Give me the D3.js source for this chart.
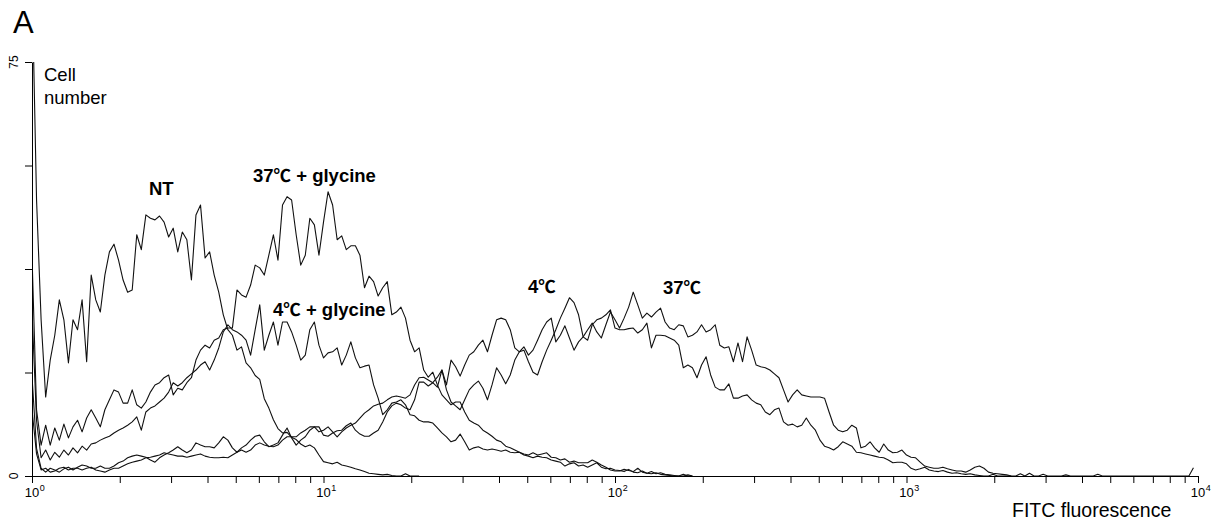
<!DOCTYPE html>
<html><head><meta charset="utf-8">
<script src="https://cdn.jsdelivr.net/npm/d3@7"></script>
<style>
html,body{margin:0;padding:0;background:#fff;}
svg{display:block;font-family:"Liberation Sans",Arial,"Noto Sans CJK SC",sans-serif;}
</style></head><body>
<svg id="chart" width="1227" height="525"></svg>
<script>
// Histogram channels: 64 channels per decade, channel i sits at 10^(i/64)
const channelsPerDecade = 64;

const ntCounts = [90, 50, 28.3, 14.3, 21, 25.5, 31.9, 28.3, 20.5, 28.3,
 26.5, 31.9, 20.7, 36.4, 31.9, 29.7, 36.4, 40.6, 42, 39.1,
 35.5, 33.3, 33.7, 43.7, 41, 47.3, 46.7, 46.4, 47.1, 46,
 43.3, 44.9, 40.6, 44.2, 42.8, 35.5, 47.3, 49.1, 39.5, 40.6,
 36.4, 33.3, 29.2, 26.5, 25.5, 22.8, 23.4, 20.5, 19.6, 18.2,
 17.5, 14, 12.3, 10.2, 8.6, 7.8, 7.9, 7.0, 6.6, 5.8,
 5.3, 5.6, 5.1, 3.8, 2.6, 2.4, 2.2, 2.5, 2.0, 1.8,
 1.6, 1.3, 1.1, 0.8, 0.5, 0.4, 0.3, 0.2, 0.3, 0.1,
 0, 0, 0.4, 0, 0, 0];

const glycine37Counts = [40, 12, 5.6, 9.2, 5.6, 8.7, 6.5, 9.4, 6.9, 8.9,
 10.1, 8, 10.5, 12, 10.5, 8.9, 12, 13.8, 15.6, 15.2,
 13.2, 13.2, 15.6, 12.9, 12.3, 13.4, 15.2, 16.5, 16.9, 17.8,
 18.3, 14.7, 15.9, 15.6, 16.9, 17.8, 21, 22.8, 23.7, 23.2,
 24.6, 25, 26.5, 26.8, 26.8, 33.7, 32.8, 32.4, 34.6, 38.2,
 37.7, 36.4, 40, 43.7, 39.1, 49.1, 50.6, 50, 43.7, 38.2,
 40, 46.7, 45.5, 40, 46, 51.5, 49.1, 42.8, 43.5, 41,
 41.7, 41.7, 40, 34.1, 36.2, 35.2, 32.6, 34.1, 35.2, 29.2,
 29.7, 30.6, 28.6, 24.6, 22.5, 23.2, 19.2, 17.9, 18.8, 16.5,
 14.7, 13.8, 12.9, 13.4, 13.4, 11.6, 10.1, 9.6, 9.2, 8.3,
 7.8, 7.2, 6.5, 6.2, 5.4, 5.1, 4.7, 4.3, 3.8, 3.6,
 3.3, 3.6, 3.4, 3.3, 2.9, 2.7, 2.5, 1.8, 2.2, 2.4,
 1.8, 2, 1.6, 2, 2.4, 1.6, 1.3, 1.4, 1.1, 1.0,
 0.8, 1.2, 0.7, 0.6, 0.9, 0.5, 0.4, 0.6, 0.3, 0.2,
 0.1, 0, 0, 0.3, 0, 0];

const glycine4Counts = [30, 10, 3.3, 4.7, 2.9, 4.3, 3.4, 4.7, 3.8, 5.1,
 4.2, 5.4, 4.7, 5.8, 6, 6.5, 6.9, 7.2, 7.8, 8.3,
 8.7, 9.2, 9.8, 10.7, 8.3, 11.6, 12.3, 12.7, 13.4, 14.1,
 15.2, 16.9, 16.3, 16.9, 17.8, 18.5, 19.2, 20.1, 20.7, 19.2,
 21, 23.2, 26.1, 27.4, 26.5, 26.1, 25.5, 24.6, 21.9, 26.5,
 31, 22.8, 25.5, 27.9, 23.7, 27.9, 27.9, 26.1, 23.7, 21,
 21.9, 26.5, 27.9, 23.7, 21.4, 22.3, 22.5, 23.2, 20.1, 21.9,
 24.3, 21.4, 19.6, 19.9, 20.1, 16.5, 14.1, 11.1, 12, 13.2,
 13.4, 13.8, 12.9, 11.1, 10.9, 10.1, 9.8, 9.8, 9.6, 8.7,
 7.8, 7.1, 6.2, 6.5, 7.6, 6.2, 4.7, 5.1, 5.3, 4.9,
 4.7, 4.9, 4.7, 4.5, 4.7, 4.3, 4.2, 4.3, 4, 3.8,
 4.2, 3.8, 4, 4.2, 3.4, 3.3, 2.9, 3.1, 2.5, 2.7,
 2.4, 2.4, 2.4, 2.9, 2.5, 2, 1.6, 1.1, 0.9, 0.9,
 1.2, 1.0, 0.8, 1.4, 0.7, 0.5, 0.8, 0.4, 0.6, 0.3,
 0.2, 0.1, 0, 0, 0.2, 0];

const cold4Counts = [12, 4, 1.1, 1.4, 0.7, 0.9, 1.4, 1.6, 1.1, 1.4,
 1.4, 1.1, 1.4, 1.6, 1.1, 0.9, 0.7, 1.1, 1.4, 1.4,
 1.8, 2.2, 2.5, 2.7, 2.9, 3.3, 3.4, 3.6, 3.8, 4.2,
 4, 3.8, 3.6, 3.6, 3.4, 3.6, 3.8, 4, 3.6, 3.4,
 3.3, 3.3, 3.4, 3.3, 3.8, 4.3, 4.7, 4.3, 4.7, 5.6,
 6, 5.6, 5.4, 5.3, 5.6, 6.5, 7.1, 7.1, 7.1, 7.8,
 8.3, 8.9, 8.9, 8.9, 7.4, 7.2, 7.8, 8.2, 8.3, 9.1,
 9.6, 8.3, 7.6, 7.2, 7.2, 7.8, 8.3, 9.8, 11.6, 12.7,
 13.2, 12.9, 12.3, 12, 13.8, 17, 17, 16.3, 16.9, 17.9,
 19.2, 15.6, 13.4, 12.7, 12, 13.8, 15.6, 16.5, 17.2, 15.9,
 13.8, 16.5, 19.6, 18.3, 16.7, 18.3, 21, 22.5, 22.8, 20.7,
 18.8, 18.3, 20.7, 22.8, 24.6, 26.5, 28.6, 30.4, 32.3, 31.4,
 29.2, 25.2, 24.6, 27.4, 28.3, 28.6, 29.2, 30.1, 26.8, 26.5,
 26.5, 26.7, 26.8, 25.9, 26.5, 27.7, 23.2, 25.5, 25.5, 25.4,
 25, 24.6, 23.7, 19.6, 20.1, 19.6, 17.8, 20.1, 21.6, 18.3,
 16.1, 15.6, 15.6, 16.7, 14.1, 14.1, 14.5, 14.7, 13.8, 13.2,
 12.9, 11.6, 11.1, 12, 12.3, 9.8, 9.2, 9.4, 8.9, 9.2,
 10.5, 9.2, 8.3, 6.5, 5.4, 5.1, 4.7, 5.3, 6.2, 5.8,
 5.4, 4.3, 4.2, 4, 3.8, 3.6, 3.4, 3.3, 2.9, 2.4,
 2.5, 2.5, 2.2, 1.4, 1.1, 1.3, 1.6, 1.1, 0.9, 0.8,
 1.0, 0.7, 0.5, 0.6, 0.4, 0.3, 0.4, 0.2, 0.1, 0,
 0, 0.3, 0, 0, 0, 0];

const warm37Counts = [18, 5, 1.4, 0.7, 1.4, 1.1, 0.7, 1.3, 1.6, 1.1,
 1.6, 2, 1.8, 1.4, 1.4, 1.8, 1.4, 1.4, 1.8, 2.4,
 2.7, 3.3, 3.6, 3.8, 3.6, 3.4, 2.9, 2.5, 3.3, 3.8,
 4.2, 4.7, 5.3, 4.7, 4.2, 4.7, 6, 5.6, 5.3, 5.3,
 5.1, 6, 7.1, 6.5, 5.1, 4.3, 5.1, 5.6, 6.5, 7.2,
 7.4, 6.2, 5.3, 5.6, 6, 7.4, 8.7, 6.9, 5.6, 6.5,
 7.1, 8.3, 8.9, 8, 8.3, 8.9, 8, 7.1, 8, 8.7,
 9.2, 9.6, 10.5, 11.4, 12, 12.7, 13, 13.2, 13.8, 14.3,
 14.5, 14.3, 14.1, 14.7, 16.5, 17.8, 17.9, 17.4, 16.9, 16.1,
 19.2, 16.5, 21, 19.8, 18.1, 20.1, 21.9, 22.5, 23.7, 24.6,
 22.5, 25.5, 28.3, 28.6, 28.3, 26.5, 23.2, 22.5, 23.4, 21.9,
 22.8, 24.6, 26.5, 27.9, 28.6, 24.3, 25.5, 27.2, 25, 22.8,
 24.3, 25.2, 26.5, 27.7, 26.1, 25, 27.4, 29.7, 28.3, 26.8,
 28.6, 30.6, 33.3, 31, 28.6, 29.5, 28.8, 29.7, 30.4, 27.9,
 26.8, 26.5, 27.4, 27.2, 25.2, 25.5, 26.1, 27.4, 26.1, 26.5,
 27.4, 23.7, 23.2, 23.4, 20.7, 24.1, 20.7, 25.2, 22.8, 20.1,
 19.8, 19.6, 19.2, 18.5, 17.8, 15.6, 13.4, 14.7, 15.6, 14.7,
 14.5, 14.3, 14.3, 14.3, 14.1, 11.6, 9.2, 8.3, 8, 8.3,
 9.2, 8.7, 5.1, 5.4, 6.2, 5.1, 4.3, 5.8, 4.7, 4.2,
 4.3, 4.7, 3.8, 3.4, 3.3, 2.5, 1.8, 1.6, 1.4, 1.4,
 1.6, 1.3, 1.1, 0.9, 0.9, 0.7, 1.1, 1.6, 1.8, 1.4,
 0.7, 0.5, 0.4, 0.3, 0.2, 0, 0, 0.4, 0, 0.5,
 0, 0, 0.3, 0, 0, 0, 0, 0.2, 0, 0,
 0, 0, 0, 0, 0.3, 0, 0, 0, 0, 0,
 0, 0, 0, 0, 0, 0, 0, 0, 0, 0,
 0, 0, 0, 0, 0, 1.5];

const seriesNames = ["NT", "37℃ + glycine", "4℃ + glycine", "4℃", "37℃"];
const seriesCounts = [ntCounts, glycine37Counts, glycine4Counts, cold4Counts, warm37Counts];

const xDomain = [1, 10000];
const yDomain = [0, 75];
const yTickValues = [0, 18.75, 37.5, 56.25, 75];
const yTickLabels = ["0", "", "", "", "75"];
const decadeTicks = [1, 10, 100, 1000, 10000];
const decadeExponents = ["0", "1", "2", "3", "4"];
const xAxisTitle = "FITC fluorescence";
const yAxisTitle = ["Cell", "number"];
const panelLetter = "A";

// ---------------- drawing ----------------
const svg = d3.select("#chart");
const x = d3.scaleLog().domain(xDomain).range([32, 1198]);
const y = d3.scaleLinear().domain(yDomain).range([476, 62]);

svg.append("defs").append("clipPath").attr("id", "plotclip")
  .append("rect").attr("x", 32).attr("y", 62).attr("width", 1170).attr("height", 416);

const line = d3.line()
  .x((d, i) => x(Math.pow(10, i / channelsPerDecade)))
  .y(d => y(d));

svg.append("g").attr("clip-path", "url(#plotclip)")
  .selectAll("path").data(seriesCounts).join("path")
  .attr("d", d => line(d))
  .attr("fill", "none")
  .attr("stroke", "#111")
  .attr("stroke-width", 1.1)
  .attr("stroke-linejoin", "round");

// x axis
const minorTicks = [];
for (let k = 0; k < 4; k++) for (let m = 1; m <= 10; m++) {
  const v = m * Math.pow(10, k);
  if (!minorTicks.includes(v)) minorTicks.push(v);
}
const xAxis = d3.axisBottom(x).tickValues(minorTicks).tickSize(7).tickSizeOuter(0).tickFormat("");
const gx = svg.append("g").attr("transform", "translate(0,476)").call(xAxis);
gx.selectAll("path,line").attr("stroke", "#000").attr("stroke-width", 1);

const xl = svg.append("g").attr("font-size", 13).attr("fill", "#000");
decadeTicks.forEach((v, i) => {
  const t = xl.append("text").attr("x", x(v) - 7.3).attr("y", 497);
  t.append("tspan").text("10");
  t.append("tspan").attr("font-size", 9).attr("dy", -6).attr("dx", 0.5).text(decadeExponents[i]);
});

// y axis
const yAxis = d3.axisLeft(y).tickValues(yTickValues).tickSize(7).tickSizeOuter(0).tickFormat("");
const gy = svg.append("g").attr("transform", "translate(32,0)").call(yAxis);
gy.selectAll("path,line").attr("stroke", "#000").attr("stroke-width", 1);

yTickValues.forEach((v, i) => {
  if (!yTickLabels[i]) return;
  svg.append("text")
    .attr("transform", `translate(18,${y(v)}) rotate(-90)`)
    .attr("text-anchor", "middle")
    .attr("font-size", 12)
    .text(yTickLabels[i]);
});

// titles
svg.append("text").attr("x", 13).attr("y", 33).attr("font-size", 31).text(panelLetter);
svg.append("text").attr("x", 44).attr("y", 81).attr("font-size", 18.5).text(yAxisTitle[0]);
svg.append("text").attr("x", 44).attr("y", 104).attr("font-size", 18.5).text(yAxisTitle[1]);
svg.append("text").attr("x", 1012).attr("y", 517).attr("font-size", 19.5).text(xAxisTitle);

// series annotations (data coordinates); the degree-Celsius sign uses a CJK face
const annotationAt = [[2.52, 50.9], [5.73, 53.3], [6.71, 29.0], [50.3, 33.2], [146, 33.0]];
const labels = svg.append("g").attr("font-weight", "bold").attr("font-size", 18.5)
  .selectAll("text").data(seriesNames).join("text")
  .attr("x", (d, i) => x(annotationAt[i][0]))
  .attr("y", (d, i) => y(annotationAt[i][1]));
labels.each(function(d) {
  const t = d3.select(this);
  d.split(/(℃)/).forEach(part => {
    if (!part) return;
    const s = t.append("tspan").text(part);
    if (part === "℃") s.attr("font-family", "'Noto Sans CJK SC'").attr("font-size", 17.5);
  });
});
</script>
</body></html>
